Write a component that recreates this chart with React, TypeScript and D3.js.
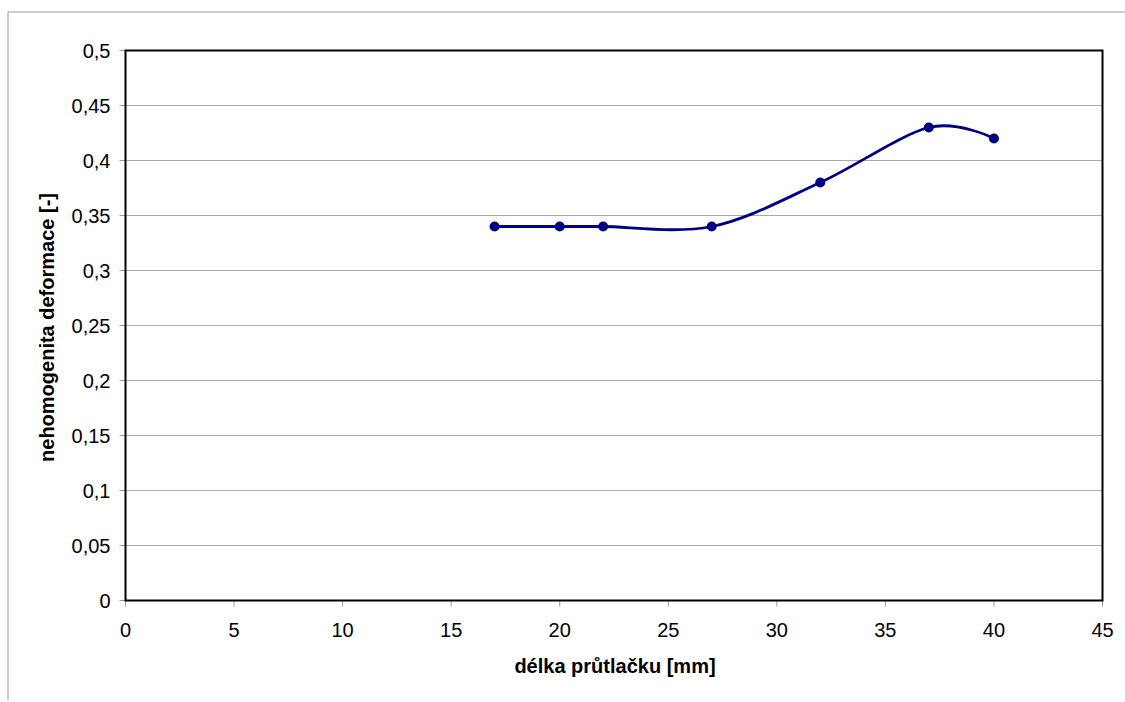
import React from "react";
import * as d3 from "d3";

const xValues = [17, 20, 22, 27, 32, 37, 40];
const yValues = [0.34, 0.34, 0.34, 0.34, 0.38, 0.43, 0.42];
const xTicks = [0, 5, 10, 15, 20, 25, 30, 35, 40, 45];
const yTicks = [0, 0.05, 0.1, 0.15, 0.2, 0.25, 0.3, 0.35, 0.4, 0.45, 0.5];
const xTitle = "délka průtlačku [mm]";
const yTitle = "nehomogenita deformace [-]";

const W = 1125, H = 702;
const L = 125.5, R = 1102.5, T = 50.5, B = 600.5;

const fmt = (v: number) => String(+v.toFixed(2)).replace(".", ",");

export default function App() {
  const x = d3.scaleLinear().domain([0, 45]).range([L, R]);
  const y = d3.scaleLinear().domain([0, 0.5]).range([B, T]);
  const pts: [number, number][] = xValues.map((v, i) => [x(v), y(yValues[i])]);
  const line = d3.line().curve(d3.curveCatmullRom.alpha(0))(pts) || "";
  const font = "'Liberation Sans', Arial, sans-serif";
  return (
    <svg width={W} height={H} style={{ position: "absolute", left: 0, top: 0, background: "#fff" }} fontFamily={font}>
      <rect x={0} y={0} width={W} height={H} fill="#fff" />
      <line x1={8} y1={12} x2={W} y2={12} stroke="#bbb" strokeWidth={1.5} />
      <line x1={8} y1={12} x2={8} y2={700} stroke="#bbb" strokeWidth={1.5} />
      {yTicks.map((t) => (
        <g key={"y" + t}>
          {t > 0 && t < 0.5 && <line x1={L} x2={R} y1={y(t)} y2={y(t)} stroke="#aaa" strokeWidth={1} />}
          <line x1={L - 6} x2={L} y1={y(t)} y2={y(t)} stroke="#999" strokeWidth={1} />
          <text x={L - 15} y={y(t)} dy="0.37em" textAnchor="end" fontSize={20} fill="#000">{fmt(t)}</text>
        </g>
      ))}
      {xTicks.map((t) => (
        <g key={"x" + t}>
          <line x1={x(t)} x2={x(t)} y1={B} y2={B + 6} stroke="#999" strokeWidth={1} />
          <text x={x(t)} y={637} textAnchor="middle" fontSize={20} fill="#000">{fmt(t)}</text>
        </g>
      ))}
      <rect x={L} y={T} width={R - L} height={B - T} fill="none" stroke="#000" strokeWidth={2} />
      <path d={line} fill="none" stroke="#000080" strokeWidth={2.8} />
      {pts.map((p, i) => (
        <circle key={i} cx={p[0]} cy={p[1]} r={5} fill="#000080" />
      ))}
      <text x={(L + R) / 2 + 1} y={673} textAnchor="middle" fontSize={20} fontWeight="bold" fill="#000">{xTitle}</text>
      <text transform={`translate(54, ${(T + B) / 2 + 2}) rotate(-90)`} textAnchor="middle" fontSize={20} fontWeight="bold" fill="#000">{yTitle}</text>
    </svg>
  );
}
